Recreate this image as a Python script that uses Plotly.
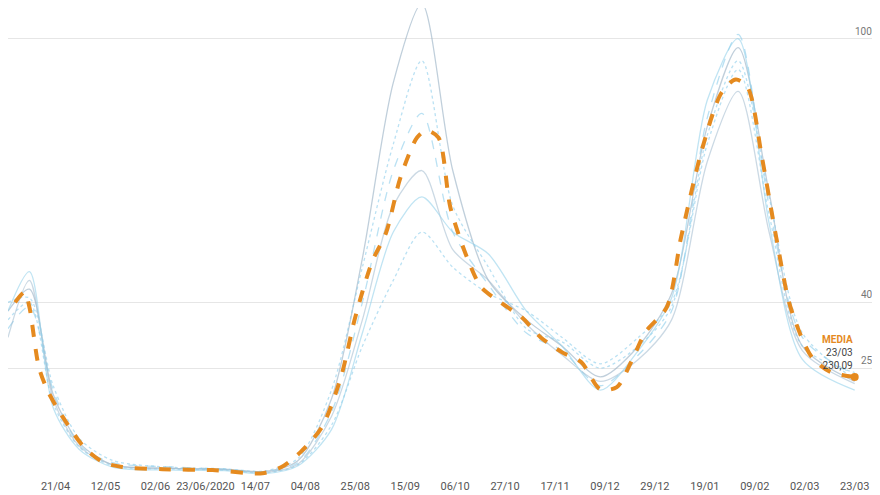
import plotly.graph_objects as go

media_dates = ["2020-04-04","2020-04-08","2020-04-10","2020-04-14","2020-04-18","2020-04-24","2020-05-03","2020-05-11","2020-05-19","2020-06-05","2020-06-26","2020-07-17","2020-07-25","2020-08-02","2020-08-11","2020-08-19","2020-08-25","2020-09-01","2020-09-07","2020-09-13","2020-09-20","2020-09-24","2020-09-29","2020-10-04","2020-10-11","2020-10-17","2020-10-25","2020-11-03","2020-11-11","2020-11-20","2020-11-28","2020-12-06","2020-12-13","2020-12-19","2020-12-25","2021-01-03","2021-01-09","2021-01-18","2021-01-26","2021-02-01","2021-02-06","2021-02-12","2021-02-18","2021-02-24","2021-03-05","2021-03-13","2021-03-23"]
media_vals = [400,423,389,252,195,139,70,36,25,20,18,11,25,59,116,230,366,491,559,684,775,791,775,616,502,434,400,366,320,286,264,202,207,264,332,389,548,752,877,907,889,730,548,389,275,241,230.09]

d = ["2020-04-01","2020-04-10","2020-04-20","2020-05-01","2020-05-15","2020-06-10","2020-07-01","2020-07-18","2020-08-01","2020-08-15","2020-08-28","2020-09-10","2020-09-22","2020-10-05","2020-10-20","2020-11-05","2020-11-20","2020-12-06","2020-12-22","2021-01-05","2021-01-20","2021-02-02","2021-02-15","2021-03-01","2021-03-23"]
s1 = [380,430,190,80,30,22,20,15,40,180,500,900,1080,700,450,360,300,230,300,420,800,980,650,300,220]
s2 = [360,400,170,70,28,20,18,12,30,120,300,450,560,480,420,380,320,260,320,400,760,930,600,300,240]
s3 = [340,390,200,75,35,25,20,14,35,150,400,700,830,560,440,330,290,210,280,380,820,1010,620,320,235]
s4 = [320,450,180,72,30,22,19,13,32,140,360,620,700,520,450,350,280,220,270,360,720,880,560,290,215]
s5 = [400,410,210,90,40,24,21,16,45,200,480,760,950,620,480,340,310,250,300,390,780,950,640,330,225]
s6 = [380,470,160,65,25,18,17,10,28,110,330,560,640,560,510,380,300,200,290,410,860,1000,580,270,200]

tick_dates = ["2020-03-31","2020-04-21","2020-05-12","2020-06-02","2020-06-23","2020-07-14","2020-08-04","2020-08-25","2020-09-15","2020-10-06","2020-10-27","2020-11-17","2020-12-08","2020-12-29","2021-01-19","2021-02-09","2021-03-02","2021-03-23"]
tick_text = ["31/03","21/04","12/05","02/06","23/06/2020","14/07","04/08","25/08","15/09","06/10","27/10","17/11","09/12","29/12","19/01","09/02","02/03","23/03"]
y_ticks = [250, 400, 1000]

fig = go.Figure()
styles = [("rgba(150,175,195,0.6)","solid"),("rgba(140,205,235,0.6)","dot"),("rgba(140,205,235,0.6)","dash"),
          ("rgba(160,185,205,0.55)","solid"),("rgba(140,205,235,0.6)","dot"),("rgba(150,210,235,0.6)","solid")]
for s,(c,ds) in zip([s1,s2,s3,s4,s5,s6], styles):
    fig.add_trace(go.Scatter(x=d, y=s, mode="lines", line=dict(color=c, width=1.3, dash=ds, shape="spline", smoothing=0.8), hoverinfo="skip"))
fig.add_trace(go.Scatter(x=media_dates, y=media_vals, mode="lines", line=dict(color="#e58a1f", width=4, dash="dash", shape="spline", smoothing=0.8)))
fig.add_trace(go.Scatter(x=[media_dates[-1]], y=[media_vals[-1]], mode="markers", marker=dict(color="#e58a1f", size=8)))
fig.add_annotation(x=media_dates[-1], y=media_vals[-1], xanchor="right", yanchor="bottom", yshift=4, showarrow=False, align="right",
                   text="<b><span style='color:#e58a1f'>MEDIA</span></b><br>23/03<br>230,09", font=dict(size=10, color="#444"))
for v in y_ticks:
    fig.add_annotation(x=1, xref="paper", y=v, xanchor="right", yanchor="bottom", xshift=-8, showarrow=False,
                       text=str(v), font=dict(size=10, color="#777"))
fig.update_layout(width=880, height=495, margin=dict(l=0, r=0, t=0, b=25), showlegend=False,
                  plot_bgcolor="white", paper_bgcolor="white", font=dict(family="Roboto", color="#555"))
fig.update_xaxes(range=["2020-04-01","2021-04-06"], tickvals=tick_dates, ticktext=tick_text, showgrid=False,
                 tickfont=dict(size=11), ticks="")
fig.update_yaxes(range=[0,1070], tickvals=y_ticks, showticklabels=False,
                 gridcolor="#e6e6e6", zeroline=False)
fig.write_html("out.html")
